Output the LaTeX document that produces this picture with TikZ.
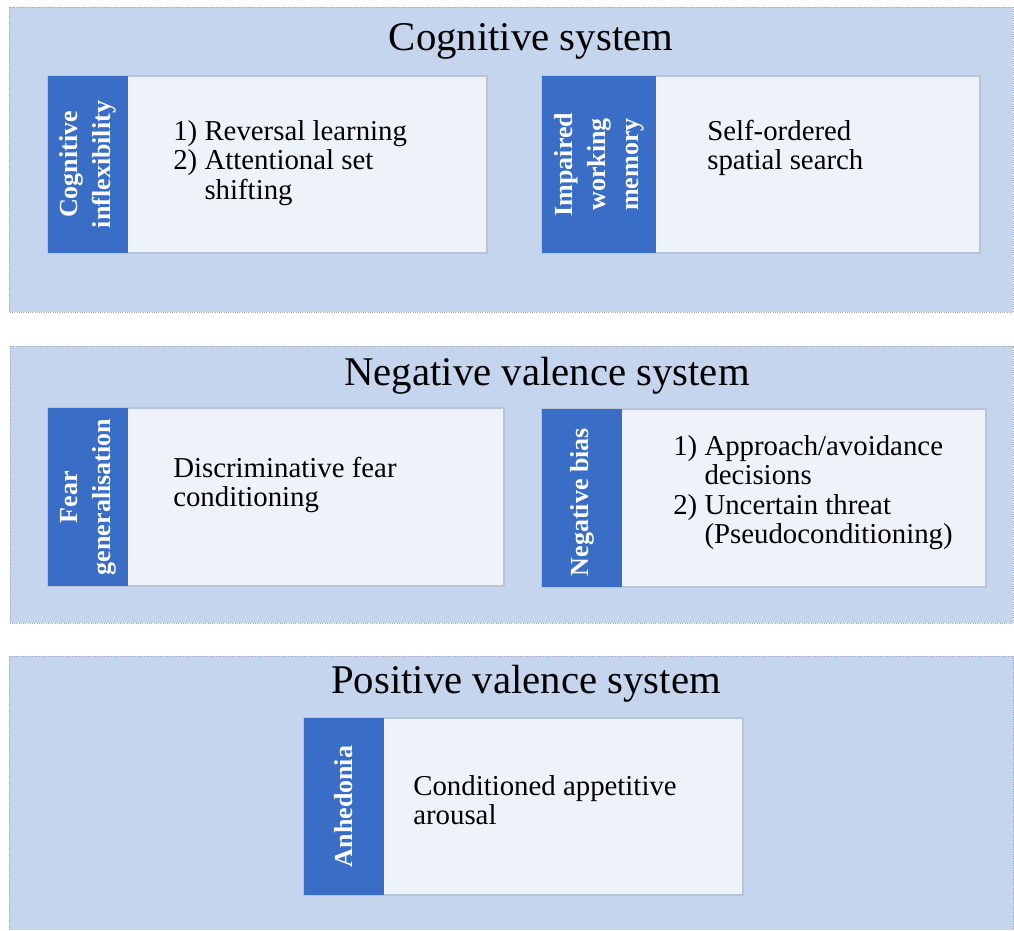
\documentclass[tikz,border=0pt]{standalone}
\usepackage{fontspec}
\setmainfont{Liberation Serif}

\definecolor{panelblue}{HTML}{C6D5EE}
\definecolor{panelline}{HTML}{A3A7B8}
\definecolor{stripblue}{HTML}{3A6EC6}
\definecolor{cardwhite}{HTML}{EEF3FA}
\definecolor{cardline}{HTML}{B9C3D9}

\begin{document}
\begin{tikzpicture}[
    x=0.025cm, y=-0.025cm,
    panel/.style={fill=panelblue, draw=panelline, densely dotted, line width=0.6pt},
    card/.style={fill=cardwhite, draw=cardline, line width=0.8pt},
    strip/.style={fill=stripblue},
    heading/.style={font=\fontsize{29}{32}\selectfont, inner sep=0pt, anchor=base},
    sidetag/.style={rotate=90, text=white, align=center, inner sep=0pt,
        font=\bfseries\fontsize{18.5}{23.5}\selectfont},
    bodytext/.style={font=\fontsize{20.5}{21}\selectfont, inner sep=0pt, anchor=base west},
]
    \useasboundingbox (0,0) rectangle (1014,930);

    % the three system panels
    \draw[panel] (9,7) rectangle (1013,312);
    \draw[panel] (10,346) rectangle (1013,623);
    \fill[panelblue] (9,656) rectangle (1014,930);
    \draw[panelline, densely dotted, line width=0.6pt] (9,930) -- (9,656) -- (1013,656) -- (1013,930);

    \node[heading] (cogtitle) at (531,50) {Cognitive system};
    \node[heading] (negtitle) at (547,385) {Negative valence system};
    \node[heading] (postitle) at (526,693) {Positive valence system};

    % cognitive system
    \draw[card] (48,76) rectangle (487,253);
    \fill[strip] (48,76) rectangle (128,253);
    \node[sidetag] (inflex) at (88,164.5) {Cognitive\\inflexibility};
    \node[bodytext] (reversal) at (173,140) {\begin{tabular}[t]{@{}l@{\ }l@{}}1) & Reversal learning\\ 2) & Attentional set\\ & shifting\end{tabular}};

    \draw[card] (542,76) rectangle (980,253);
    \fill[strip] (542,76) rectangle (656,253);
    \node[sidetag] (memory) at (599,164.5) {Impaired\\working\\memory};
    \node[bodytext] (search) at (707,140) {\begin{tabular}[t]{@{}l@{}}Self-ordered\\ spatial search\end{tabular}};

    % negative valence system
    \draw[card] (48,408) rectangle (504,586);
    \fill[strip] (48,408) rectangle (128,586);
    \node[sidetag] (fear) at (88,497) {Fear\\generalisation};
    \node[bodytext] (discrim) at (173,477) {\begin{tabular}[t]{@{}l@{}}Discriminative fear\\ conditioning\end{tabular}};

    \draw[card] (542,409) rectangle (986,587);
    \fill[strip] (542,409) rectangle (622,587);
    \node[sidetag] (negbias) at (582,502) {Negative bias};
    \node[bodytext] (approach) at (673,455) {\begin{tabular}[t]{@{}l@{\ }l@{}}1) & Approach/avoidance\\ & decisions\\ 2) & Uncertain threat\\ & (Pseudoconditioning)\end{tabular}};

    % positive valence system
    \draw[card] (304,718) rectangle (743,895);
    \fill[strip] (304,718) rectangle (384,895);
    \node[sidetag] (anhedonia) at (344,806.5) {Anhedonia};
    \node[bodytext] (arousal) at (413,795) {\begin{tabular}[t]{@{}l@{}}Conditioned appetitive\\ arousal\end{tabular}};

\end{tikzpicture}
\end{document}
